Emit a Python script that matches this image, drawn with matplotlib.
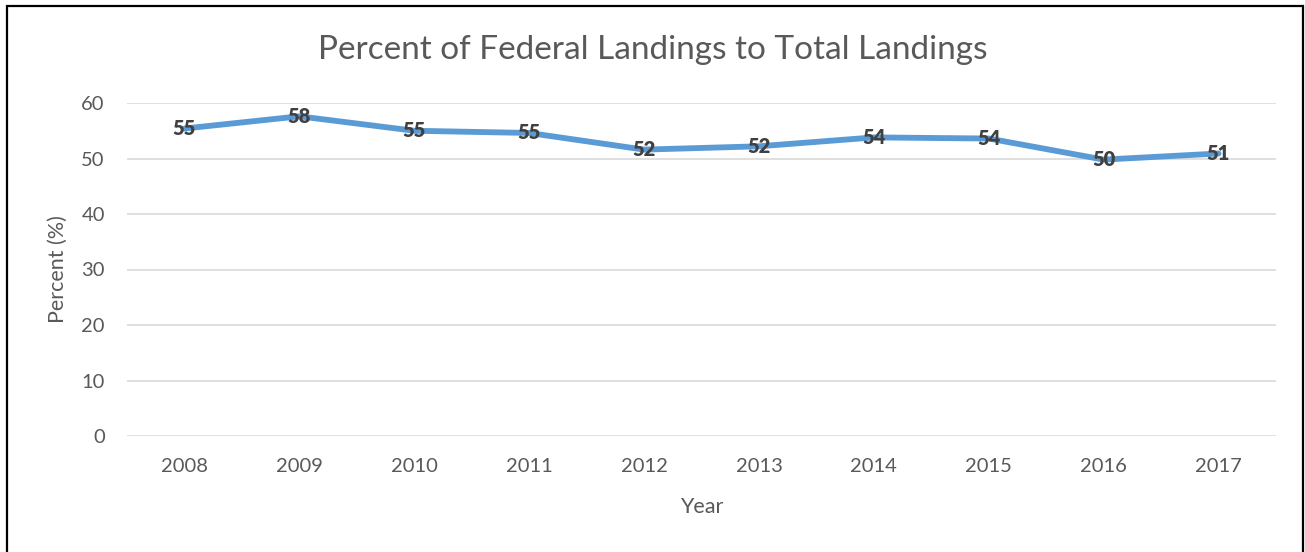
import matplotlib
matplotlib.use("Agg")
import matplotlib.pyplot as plt
from matplotlib.patches import Rectangle

years = ["2008", "2009", "2010", "2011", "2012", "2013", "2014", "2015", "2016", "2017"]
percent = [55.4, 57.6, 55.0, 54.6, 51.6, 52.2, 53.8, 53.6, 49.8, 50.9]
labels = ["55", "58", "55", "55", "52", "52", "54", "54", "50", "51"]
yticks = [0, 10, 20, 30, 40, 50, 60]

plt.rcParams['font.family'] = ['Lato', 'DejaVu Sans']

W, H = 1305, 552
fig = plt.figure(figsize=(W / 100, H / 100), dpi=100)
ax = fig.add_axes([127 / W, 1 - 436 / H, (1276 - 127) / W, (436 - 103) / H])

x = list(range(len(years)))
ax.plot(x, percent, color="#5b9bd5", lw=4.2, solid_capstyle="round", zorder=3)
for xi, yi, lab in zip(x, percent, labels):
    ax.text(xi, yi, lab, ha="center", va="center", fontsize=14.5,
            fontweight="heavy", color="#404040", zorder=4)

ax.set_xlim(-0.5, len(years) - 0.5)
ax.set_ylim(0, 60)
ax.set_xticks(x)
ax.set_xticklabels(years)
ax.set_yticks(yticks)
ax.grid(axis="y", color="#d9d9d9", lw=1.2, zorder=0)
ax.set_axisbelow(True)
for s in ax.spines.values():
    s.set_visible(False)
ax.tick_params(axis="both", length=0, labelsize=14.5, colors="#595959")
ax.tick_params(axis="y", pad=16)
ax.tick_params(axis="x", pad=16)

ax.set_xlabel("Year", fontsize=15.5, color="#595959", labelpad=16)
ax.set_ylabel("Percent (%)", fontsize=15.5, color="#595959", labelpad=10)
fig.text(0.5, 1 - 50 / H, "Percent of Federal Landings to Total Landings",
         ha="center", va="center", fontsize=24, color="#595959")

fig.patches.append(Rectangle((7 / W, -0.1), (1303 - 7) / W, 1.1 - 6 / H,
                             transform=fig.transFigure, fill=False,
                             edgecolor="black", lw=1.6))

fig.savefig("out.png", dpi=100)
